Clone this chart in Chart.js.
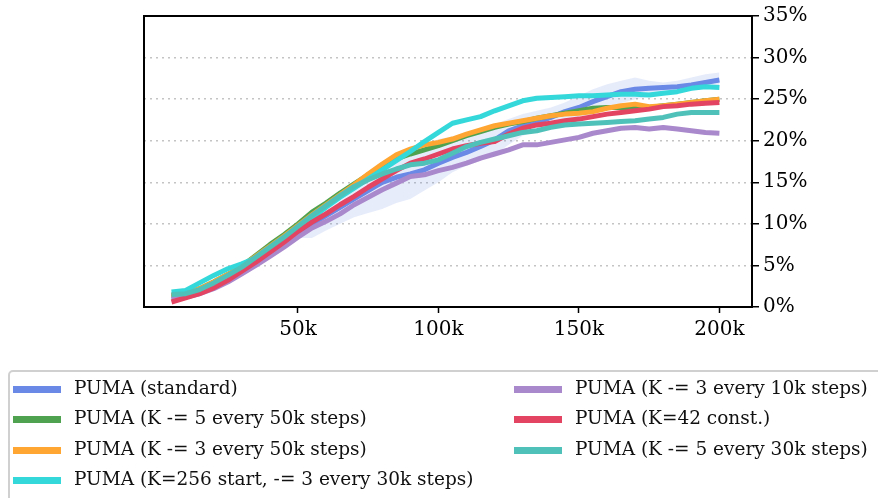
<!DOCTYPE html>
<html>
<head>
<meta charset="utf-8">
<script src="https://cdn.jsdelivr.net/npm/chart.js@4.4.1/dist/chart.umd.min.js"></script>
<style>
  html, body { margin: 0; padding: 0; background: #fff; overflow: hidden; }
  #wrap { position: relative; width: 878px; height: 498px; }
  #legend {
    position: absolute; left: 8px; top: 370px; width: 900px; height: 160px;
    border: 2px solid #d0d0d0; border-radius: 5px; box-sizing: border-box;
    font-family: "DejaVu Serif", serif; font-size: 18.5px; color: #111;
  }
  .item { position: absolute; height: 30px; line-height: 30px; white-space: nowrap; }
  .sw { position: absolute; top: 12px; width: 48px; height: 7px; }
  .lbl { position: absolute; }
</style>
</head>
<body>
<div id="wrap">
  <canvas id="chart" width="878" height="498"></canvas>
  <div id="legend"></div>
</div>
<script>
// training steps (k)
const steps = [5, 10, 15, 20, 25, 30, 35, 40, 45, 50, 55, 60, 65, 70, 75, 80, 85, 90, 95, 100,
  105, 110, 115, 120, 125, 130, 135, 140, 145, 150, 155, 160, 165, 170, 175, 180, 185, 190, 195, 200];

const standard = [1.2, 1.5, 2.0, 2.8, 3.8, 4.9, 6.0, 7.1, 8.0, 9.0, 10.0, 11.0, 12.0, 13.0, 14.0, 15.0, 15.6, 16.0, 16.5, 17.3,
  18.0, 18.6, 19.3, 20.1, 21.2, 21.8, 22.2, 22.8, 23.5, 24.0, 24.7, 25.3, 25.9, 26.2, 26.3, 26.4, 26.5, 26.7, 27.0, 27.3];
const standardHigh = [1.5, 1.8, 2.3, 3.1, 4.1, 5.2, 6.3, 7.5, 8.6, 9.8, 11.2, 12.5, 13.8, 14.8, 16.0, 17.2, 18.2, 19.0, 19.5, 20.2,
  20.5, 21.0, 21.5, 22.0, 22.6, 23.2, 23.6, 24.0, 24.6, 25.4, 26.2, 26.8, 27.2, 27.6, 27.2, 27.0, 27.2, 27.6, 28.0, 28.2];
const standardLow = [0.9, 1.2, 1.7, 2.5, 3.5, 4.6, 5.7, 6.7, 7.5, 8.3, 8.3, 9.2, 10.0, 10.8, 11.3, 11.8, 12.5, 13.0, 14.0, 15.0,
  16.2, 17.0, 17.6, 18.3, 19.5, 20.6, 21.2, 21.8, 22.4, 22.8, 23.2, 23.8, 24.5, 25.0, 25.3, 25.5, 25.8, 26.0, 26.3, 26.5];
const k5every50k = [1.4, 1.6, 2.2, 3.0, 3.9, 4.9, 6.2, 7.5, 8.7, 10.0, 11.4, 12.5, 13.7, 14.8, 15.9, 17.0, 17.8, 18.4, 18.9, 19.4,
  20.0, 20.6, 21.1, 21.6, 22.0, 22.3, 22.7, 23.0, 23.3, 23.6, 23.9, 24.0, 24.0, 24.0, 24.0, 24.2, 24.4, 24.6, 24.8, 25.0];
const k3every50k = [1.4, 1.6, 2.2, 3.0, 3.9, 4.9, 6.1, 7.3, 8.5, 9.8, 11.1, 12.3, 13.5, 14.7, 16.0, 17.2, 18.3, 19.0, 19.5, 19.8,
  20.2, 20.8, 21.3, 21.8, 22.1, 22.4, 22.7, 23.0, 23.2, 23.3, 23.5, 23.9, 24.2, 24.4, 24.1, 24.2, 24.4, 24.6, 24.8, 25.0];
const k256start = [1.8, 2.0, 2.9, 3.8, 4.6, 5.2, 5.9, 6.8, 8.0, 9.3, 10.7, 12.0, 13.2, 14.3, 15.4, 16.5, 17.6, 18.7, 19.9, 21.0,
  22.1, 22.5, 22.9, 23.6, 24.2, 24.8, 25.1, 25.2, 25.3, 25.4, 25.4, 25.5, 25.6, 25.6, 25.5, 25.7, 25.9, 26.3, 26.5, 26.4];
const k3every10k = [0.9, 1.2, 1.6, 2.2, 3.0, 4.0, 5.0, 6.1, 7.2, 8.4, 9.5, 10.3, 11.2, 12.3, 13.2, 14.1, 14.9, 15.7, 15.9, 16.4,
  16.8, 17.3, 17.9, 18.4, 18.9, 19.5, 19.5, 19.8, 20.1, 20.4, 20.9, 21.2, 21.5, 21.6, 21.4, 21.6, 21.4, 21.2, 21.0, 20.9];
const k42const = [0.6, 1.1, 1.6, 2.3, 3.2, 4.3, 5.4, 6.6, 7.8, 9.1, 10.2, 11.2, 12.3, 13.3, 14.4, 15.4, 16.4, 17.3, 17.8, 18.4,
  19.0, 19.4, 19.7, 19.9, 20.8, 21.5, 21.9, 22.1, 22.4, 22.6, 22.9, 23.2, 23.4, 23.6, 23.8, 24.1, 24.2, 24.4, 24.5, 24.6];
const k5every30k = [1.5, 1.6, 2.1, 2.9, 3.8, 4.8, 6.0, 7.2, 8.4, 9.7, 11.0, 12.2, 13.4, 14.5, 15.3, 16.0, 16.6, 17.1, 17.3, 17.7,
  18.5, 19.3, 19.8, 20.2, 20.6, 21.0, 21.2, 21.6, 21.9, 22.0, 22.1, 22.2, 22.3, 22.4, 22.6, 22.8, 23.2, 23.4, 23.4, 23.4];

const seriesLabels = [
  'PUMA (standard)',
  'PUMA (K -= 5 every 50k steps)',
  'PUMA (K -= 3 every 50k steps)',
  'PUMA (K=256 start, -= 3 every 30k steps)',
  'PUMA (K -= 3 every 10k steps)',
  'PUMA (K=42 const.)',
  'PUMA (K -= 5 every 30k steps)'
];
const seriesValues = [standard, k5every50k, k3every50k, k256start, k3every10k, k42const, k5every30k];
const seriesColors = ['#6a89e6', '#4fa350', '#ffa531', '#34d8da', '#aa88cc', '#e34461', '#4fc1b9'];

const xTicks = [50, 100, 150, 200];
const yTicks = [0, 5, 10, 15, 20, 25, 30, 35];

const pts = arr => arr.map((v, i) => ({ x: steps[i], y: v }));

const datasets = [
  {
    label: 'band-high', data: pts(standardHigh), borderWidth: 0, pointRadius: 0,
    backgroundColor: 'rgba(106,137,230,0.16)', fill: '+1', order: 100
  },
  {
    label: 'band-low', data: pts(standardLow), borderWidth: 0, pointRadius: 0,
    backgroundColor: 'rgba(106,137,230,0.16)', fill: false, order: 101
  }
];
seriesValues.forEach((vals, i) => {
  datasets.push({
    label: seriesLabels[i],
    data: pts(vals),
    borderColor: seriesColors[i],
    borderWidth: 5,
    pointRadius: 0,
    fill: false,
    tension: 0,
    borderJoinStyle: 'round',
    order: 20 - i
  });
});

// frame round the plot area (top/left spines)
const frame = {
  id: 'frame',
  afterDraw(chart) {
    const { ctx, chartArea: a } = chart;
    ctx.save();
    ctx.strokeStyle = '#000';
    ctx.lineWidth = 2;
    ctx.strokeRect(a.left, a.top, a.right - a.left, a.bottom - a.top);
    ctx.restore();
  }
};

const tickFont = { family: 'DejaVu Serif', size: 20 };

new Chart(document.getElementById('chart'), {
  type: 'line',
  data: { datasets },
  plugins: [frame],
  options: {
    responsive: false,
    animation: false,
    layout: { padding: { left: 144, top: 10, right: 56, bottom: 151 } },
    plugins: { legend: { display: false }, tooltip: { enabled: false } },
    scales: {
      x: {
        type: 'linear',
        min: -4.8,
        max: 211.6,
        afterFit: s => { s.height = 40; },
        afterBuildTicks: s => { s.ticks = xTicks.map(v => ({ value: v })); },
        grid: { drawOnChartArea: false, tickLength: 6, tickColor: '#000', tickWidth: 1.5 },
        border: { color: '#000', width: 2 },
        ticks: { font: tickFont, color: '#000', padding: 5, maxRotation: 0, callback: v => v + 'k' }
      },
      y: {
        position: 'right',
        min: 0,
        max: 35,
        afterFit: s => { s.width = 70; },
        afterBuildTicks: s => { s.ticks = yTicks.map(v => ({ value: v })); },
        grid: {
          color: c => (c.tick.value === 0 || c.tick.value === 35) ? 'rgba(0,0,0,0)' : '#c4c4c4',
          lineWidth: 1.5,
          tickLength: 7, tickColor: '#000', tickWidth: 1.5
        },
        border: { color: '#000', width: 2, dash: [2, 4] },
        ticks: { font: tickFont, color: '#000', padding: 4, callback: v => v + '%' }
      }
    }
  }
});

// legend: two columns, filled column by column
const legend = document.getElementById('legend');
const rowTop = [1, 31, 62, 92];
seriesLabels.forEach((lab, i) => {
  const col = i < 4 ? 0 : 1;
  const row = i < 4 ? i : i - 4;
  const item = document.createElement('div');
  item.className = 'item';
  item.style.top = rowTop[row] + 'px';
  item.style.left = (col === 0 ? 3 : 504) + 'px';
  const sw = document.createElement('div');
  sw.className = 'sw';
  sw.style.left = '0px';
  sw.style.top = '13px';
  sw.style.background = seriesColors[i];
  const t = document.createElement('span');
  t.className = 'lbl';
  t.style.left = '61px';
  t.textContent = lab;
  item.appendChild(sw);
  item.appendChild(t);
  legend.appendChild(item);
});
</script>
</body>
</html>
